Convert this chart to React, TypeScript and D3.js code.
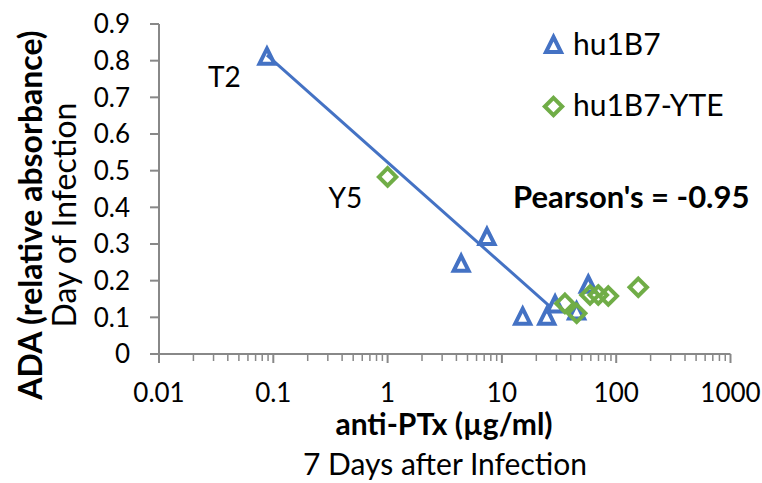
import React from "react";
import * as d3 from "d3";

const hu1B7X = [0.088, 4.4, 7.4, 15.2, 24.7, 29.2, 45, 57];
const hu1B7Y = [0.815, 0.25, 0.323, 0.106, 0.106, 0.139, 0.12, 0.193];
const yteX = [1.0, 35.6, 45.1, 59, 69.7, 85.3, 156];
const yteY = [0.483, 0.138, 0.111, 0.161, 0.161, 0.158, 0.182];
const trendX = [0.088, 26.4];
const trendY = [0.815, 0.129];
const xTicks = [0.01, 0.1, 1, 10, 100, 1000];
const xTickLabels = ["0.01", "0.1", "1", "10", "100", "1000"];
const yTicks = [0, 0.1, 0.2, 0.3, 0.4, 0.5, 0.6, 0.7, 0.8, 0.9];
const yTickLabels = ["0", "0.1", "0.2", "0.3", "0.4", "0.5", "0.6", "0.7", "0.8", "0.9"];
const legendLabels = ["hu1B7", "hu1B7-YTE"];
const pointLabels = [
  { text: "T2", x: 0.088, y: 0.815 },
  { text: "Y5", x: 1.0, y: 0.483 },
];

const BLUE = "#4472C4";
const GREEN = "#70AD47";
const AXIS = "#888888";
const FONT = "Lato, 'Open Sans', sans-serif";

function triPath(cx: number, cy: number, w = 15, h = 15) {
  const c = cy + 1;
  return `M${cx},${c - h / 2}L${cx + w / 2},${c + h / 2}L${cx - w / 2},${c + h / 2}Z`;
}
function diaPath(cx: number, cy: number, r = 8.7) {
  return `M${cx},${cy - r}L${cx + r},${cy}L${cx},${cy + r}L${cx - r},${cy}Z`;
}

export default function App() {
  const W = 762, H = 483;
  const x = d3.scaleLog().domain([0.01, 1000]).range([159, 730.5]);
  const y = d3.scaleLinear().domain([0, 0.9]).range([354, 24]);

  const minor: number[] = [];
  for (let e = -2; e < 3; e++) {
    for (let m = 2; m <= 9; m++) minor.push(m * Math.pow(10, e));
  }

  const line = d3
    .line<number>()
    .x((_, i) => x(trendX[i]))
    .y((_, i) => y(trendY[i]));

  return (
    <svg
      width={W}
      height={H}
      style={{ position: "absolute", left: 0, top: 0, background: "#fff" }}
      fontFamily={FONT}
    >
      <rect width={W} height={H} fill="#fff" />
      {/* axes */}
      <line x1={x(0.01)} x2={x(0.01)} y1={y(0.9)} y2={y(0)} stroke={AXIS} strokeWidth={2} />
      <line x1={x(0.01)} x2={x(1000)} y1={y(0)} y2={y(0)} stroke={AXIS} strokeWidth={2} />
      {yTicks.map((t, i) => (
        <g key={"yt" + i}>
          <line x1={x(0.01) - 9} x2={x(0.01)} y1={y(t)} y2={y(t)} stroke={AXIS} strokeWidth={2} />
          <text x={130} y={y(t)} dy="0.36em" textAnchor="end" fontSize={26} fill="#000">
            {yTickLabels[i]}
          </text>
        </g>
      ))}
      {xTicks.map((t, i) => (
        <g key={"xt" + i}>
          <line x1={x(t)} x2={x(t)} y1={y(0)} y2={y(0) + 9} stroke={AXIS} strokeWidth={2} />
          <text x={x(t)} y={402} textAnchor="middle" fontSize={26} fill="#000">
            {xTickLabels[i]}
          </text>
        </g>
      ))}
      {minor.map((t, i) => (
        <line key={"mt" + i} x1={x(t)} x2={x(t)} y1={y(0)} y2={y(0) + 7} stroke={AXIS} strokeWidth={1.5} />
      ))}
      {/* titles */}
      <text
        transform={`translate(42,215) rotate(-90)`}
        textAnchor="middle"
        fontSize={32}
        fontWeight="bold"
        fill="#000"
      >
        ADA (relative absorbance)
      </text>
      <text transform={`translate(76,215) rotate(-90)`} textAnchor="middle" fontSize={32} fill="#000">
        Day of Infection
      </text>
      <text x={444} y={435} textAnchor="middle" fontSize={30} fontWeight="bold" fill="#000">
        anti-PTx (µg/ml)
      </text>
      <text x={445} y={475} textAnchor="middle" fontSize={30} fill="#000">
        7 Days after Infection
      </text>
      {/* trend line */}
      <path d={line(trendX) || ""} fill="none" stroke={BLUE} strokeWidth={3} />
      {/* points */}
      {hu1B7X.map((v, i) => (
        <path key={"b" + i} d={triPath(x(v), y(hu1B7Y[i]))} fill="none" stroke={BLUE} strokeWidth={4} strokeLinejoin="miter" />
      ))}
      {yteX.map((v, i) => (
        <path key={"g" + i} d={diaPath(x(v), y(yteY[i]))} fill="none" stroke={GREEN} strokeWidth={4} />
      ))}
      {/* point labels */}
      <text x={x(pointLabels[0].x) - 59} y={y(pointLabels[0].y) + 32} fontSize={28} fill="#000">
        {pointLabels[0].text}
      </text>
      <text x={x(pointLabels[1].x) - 59} y={y(pointLabels[1].y) + 31} fontSize={28} fill="#000">
        {pointLabels[1].text}
      </text>
      {/* legend */}
      <path d={triPath(553.5, 43.5)} fill="none" stroke={BLUE} strokeWidth={4} />
      <text x={573} y={55} fontSize={30} fill="#000">
        {legendLabels[0]}
      </text>
      <path d={diaPath(553.5, 106.5)} fill="none" stroke={GREEN} strokeWidth={4} />
      <text x={573} y={116} fontSize={30} fill="#000">
        {legendLabels[1]}
      </text>
      <text x={513} y={208} fontSize={31} fontWeight="bold" fill="#000">
        Pearson's = -0.95
      </text>
    </svg>
  );
}
